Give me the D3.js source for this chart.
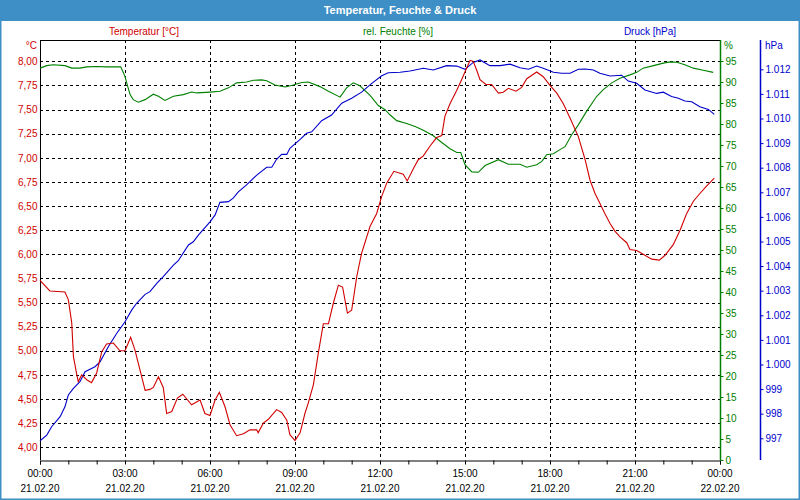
<!DOCTYPE html>
<html>
<head>
<meta charset="utf-8">
<script src="https://cdn.jsdelivr.net/npm/d3@7"></script>
<style>
  html, body { margin: 0; padding: 0; background: #fff; }
  svg { display: block; font-family: "Liberation Sans", Arial, sans-serif; }
</style>
</head>
<body>
<svg id="chart" width="800" height="500"></svg>
<script>
// ---------- DATA ----------
const title = "Temperatur, Feuchte & Druck";
const seriesNames = ["Temperatur [°C]", "rel. Feuchte [%]", "Druck [hPa]"];
const xTickTimes = ["00:00","03:00","06:00","09:00","12:00","15:00","18:00","21:00","00:00"];
const xTickDates = ["21.02.20","21.02.20","21.02.20","21.02.20","21.02.20","21.02.20","21.02.20","21.02.20","22.02.20"];
const xTickHours = [0,3,6,9,12,15,18,21,24];

// Temperature (hours since 21.02.20 00:00, °C)
const tempHours = [0,0.35,0.88,1.0,1.12,1.18,1.30,1.35,1.47,1.65,1.82,2.0,2.18,2.35,2.59,2.82,3.0,3.2,3.35,3.53,3.71,3.88,4.0,4.18,4.35,4.47,4.65,4.85,5.04,5.35,5.65,5.82,6.0,6.18,6.33,6.53,6.71,6.94,7.18,7.41,7.65,7.70,7.88,8.06,8.35,8.53,8.71,8.82,9.0,9.18,9.35,9.47,9.65,9.82,10.0,10.18,10.35,10.53,10.68,10.85,11.0,11.18,11.35,11.65,11.88,12.06,12.24,12.49,12.82,12.96,13.18,13.35,13.53,13.76,14.0,14.18,14.29,14.47,14.71,14.88,15.06,15.18,15.29,15.41,15.53,15.74,15.94,16.18,16.35,16.53,16.8,17.0,17.18,17.53,17.76,18.0,18.24,18.47,18.71,19.0,19.24,19.41,19.59,19.76,19.94,20.12,20.29,20.47,20.71,20.82,21.06,21.29,21.59,21.86,22.06,22.35,22.59,22.82,23.06,23.29,23.53,23.8];
const tempValues = [5.73,5.62,5.61,5.53,5.29,4.94,4.75,4.68,4.75,4.70,4.67,4.77,4.99,5.07,5.08,5.00,5.00,5.14,5.01,4.80,4.59,4.60,4.62,4.73,4.62,4.35,4.37,4.51,4.55,4.44,4.49,4.35,4.33,4.49,4.57,4.42,4.23,4.12,4.14,4.18,4.18,4.15,4.25,4.29,4.39,4.36,4.28,4.13,4.07,4.15,4.35,4.46,4.65,4.97,5.28,5.28,5.49,5.68,5.66,5.39,5.42,5.77,6.01,6.29,6.42,6.60,6.74,6.86,6.83,6.76,6.89,6.98,7.02,7.12,7.21,7.23,7.43,7.56,7.70,7.81,7.93,8.01,8.00,7.91,7.81,7.76,7.76,7.67,7.68,7.72,7.69,7.73,7.82,7.89,7.84,7.75,7.67,7.56,7.41,7.22,6.98,6.77,6.63,6.53,6.42,6.32,6.24,6.18,6.12,6.05,6.04,6.00,5.95,5.94,5.99,6.10,6.25,6.42,6.55,6.63,6.71,6.79];

// Relative humidity (hours, %)
const humHours = [0,0.24,0.47,0.88,1.12,1.41,1.65,2.0,2.35,2.85,3.0,3.08,3.18,3.29,3.47,3.71,4.0,4.18,4.41,4.71,5.06,5.35,5.53,6.0,6.35,6.65,6.94,7.29,7.53,7.82,8.0,8.29,8.65,8.94,9.24,9.47,9.88,10.18,10.59,10.82,11.06,11.29,11.65,11.94,12.18,12.35,12.59,12.94,13.24,13.53,13.88,14.18,14.47,14.71,14.85,15.0,15.24,15.47,15.71,16.18,16.53,16.94,17.18,17.53,17.71,17.88,18.12,18.35,18.53,18.76,19.0,19.29,19.65,19.88,20.18,20.47,20.82,21.06,21.29,21.65,22.0,22.24,22.47,22.76,23.06,23.41,23.76];
const humValues = [93.3,93.9,94.1,93.9,93.3,93.3,93.6,93.7,93.6,93.6,91.3,89.3,87.0,85.8,85.2,85.8,87.1,86.6,85.6,86.6,87.0,87.6,87.4,87.6,87.8,88.6,89.8,90.0,90.4,90.5,90.3,89.3,88.8,89.3,89.9,90.0,88.9,87.8,86.4,88.6,89.8,89.1,86.8,84.4,83.4,82.2,80.8,80.1,79.4,78.5,77.2,75.6,74.1,73.2,73.2,70.3,68.6,68.5,70.1,71.5,70.4,70.4,69.7,70.3,71.1,72.7,72.9,73.9,74.6,77.4,79.8,83.0,86.6,88.2,89.8,90.9,91.7,92.3,93.3,93.9,94.5,94.8,94.7,94.1,93.3,92.8,92.3];

// Pressure (hours, hPa)
const presHours = [0,0.24,0.41,0.71,0.88,1.0,1.18,1.41,1.59,1.94,2.12,2.41,2.71,3.0,3.24,3.41,3.71,3.88,4.12,4.35,4.71,4.88,5.24,5.41,5.59,6.0,6.18,6.35,6.65,6.82,7.0,7.29,7.65,8.0,8.18,8.35,8.53,8.71,8.82,9.18,9.41,9.59,9.94,10.29,10.65,11.0,11.35,11.71,12.06,12.29,12.71,13.06,13.53,13.88,14.35,14.71,15.0,15.29,15.53,15.88,16.24,16.59,16.94,17.24,17.53,17.76,18.12,18.41,18.71,19.0,19.24,19.53,19.76,20.12,20.53,20.76,21.06,21.35,21.76,22.0,22.29,22.53,22.76,23.0,23.29,23.59,23.8];
const presValues = [996.90,997.13,997.47,997.88,998.28,998.76,999.03,999.30,999.71,999.91,1000.11,1000.72,1001.27,1001.74,1002.22,1002.49,1002.85,1002.96,1003.30,1003.57,1004.04,1004.22,1004.86,1004.99,1005.26,1005.80,1006.08,1006.59,1006.62,1006.76,1007.02,1007.30,1007.70,1008.02,1008.02,1008.34,1008.54,1008.54,1008.79,1009.15,1009.40,1009.46,1009.91,1010.14,1010.62,1010.82,1011.07,1011.43,1011.74,1011.86,1011.88,1011.93,1012.04,1011.97,1012.15,1012.13,1012.00,1012.28,1012.38,1012.15,1012.15,1012.21,1012.06,1012.00,1012.13,1012.04,1011.88,1011.84,1011.84,1012.00,1012.01,1011.97,1011.84,1011.73,1011.76,1011.52,1011.43,1011.16,1011.02,1011.07,1010.89,1010.82,1010.71,1010.68,1010.48,1010.37,1010.17];

// Axis ticks
const tempTicks = [4,4.25,4.5,4.75,5,5.25,5.5,5.75,6,6.25,6.5,6.75,7,7.25,7.5,7.75,8];
const humTicks = [0,5,10,15,20,25,30,35,40,45,50,55,60,65,70,75,80,85,90,95];
const presTicks = [997,998,999,1000,1001,1002,1003,1004,1005,1006,1007,1008,1009,1010,1011,1012];

// ---------- LAYOUT ----------
const W = 800, H = 500;
const L = 40, R = 720, T = 40, B = 460;
const cRed = "#d00000", cGreen = "#008000", cBlue = "#0000cc", cBar = "#3d8fc6";

const de = d3.formatLocale({decimal: ",", thousands: ".", grouping: [3], currency: ["", "€"]});
const fTemp = de.format(".2f");
const fPres = de.format(",d");

const x = d3.scaleLinear().domain([0, 24]).range([L, R]);
const yT = d3.scaleLinear().domain([3.868, 8.221]).range([B, T]);
const yH = d3.scaleLinear().domain([0, 100]).range([B, T]);
const yP = d3.scaleLinear().domain([996.118, 1013.191]).range([B, T]);

const svg = d3.select("#chart");
svg.append("rect").attr("x", 0).attr("y", 0).attr("width", W).attr("height", H).attr("fill", "#fff");

// Title bar
svg.append("rect").attr("x", 0).attr("y", 0).attr("width", W).attr("height", 21).attr("fill", cBar);
svg.append("text").attr("x", 400).attr("y", 14).attr("text-anchor", "middle")
  .attr("fill", "#fff").attr("font-weight", "bold").attr("font-size", 11).text(title);

// Outer border
svg.append("rect").attr("x", 0.75).attr("y", 0.75).attr("width", W - 1.5).attr("height", H - 1.5)
  .attr("fill", "none").attr("stroke", cBar).attr("stroke-width", 1.5);

// Series labels
const legendX = [144, 398, 650];
const legendC = [cRed, cGreen, cBlue];
seriesNames.forEach((n, i) => {
  svg.append("text").attr("x", legendX[i]).attr("y", 35).attr("text-anchor", "middle")
    .attr("font-size", 10).attr("fill", legendC[i]).text(n);
});

// Grid
const grid = svg.append("g").attr("stroke", "#000").attr("stroke-width", 1).attr("stroke-dasharray", "3,3");
tempTicks.forEach(t => {
  const yy = Math.round(yT(t)) + 0.5;
  grid.append("line").attr("x1", L).attr("x2", R).attr("y1", yy).attr("y2", yy);
});
xTickHours.slice(1, -1).forEach(h => {
  const xx = Math.round(x(h)) + 0.5;
  grid.append("line").attr("x1", xx).attr("x2", xx).attr("y1", T).attr("y2", B);
});

// Frame
svg.append("line").attr("x1", L).attr("x2", R).attr("y1", T + 0.5).attr("y2", T + 0.5).attr("stroke", "#000");
svg.append("line").attr("x1", L + 0.5).attr("x2", L + 0.5).attr("y1", T).attr("y2", B).attr("stroke", "#000");

// Left temperature axis
const axT = svg.append("g").attr("transform", `translate(${L + 0.5},0)`)
  .call(d3.axisLeft(yT).tickValues(tempTicks).tickFormat(fTemp).tickSize(0).tickPadding(3));
axT.select(".domain").remove();
axT.selectAll("text").attr("fill", cRed).attr("font-size", 10).attr("font-family", "Liberation Sans, Arial, sans-serif");
svg.append("text").attr("x", 37).attr("y", 49).attr("text-anchor", "end").attr("font-size", 10).attr("fill", cRed).text("°C");

// Bottom time axis
const axX = svg.append("g").attr("transform", `translate(0,${B + 0.5})`)
  .call(d3.axisBottom(x).ticks(24).tickSize(4).tickFormat(""));
axX.select(".domain").attr("stroke", "#000");
axX.selectAll(".tick line").attr("stroke", "#000");
const lblX = svg.append("g").attr("font-size", 10).attr("fill", "#000").attr("text-anchor", "middle");
xTickHours.forEach((h, i) => {
  const t = lblX.append("text").attr("x", x(h)).attr("y", 477);
  t.text(xTickTimes[i]);
  lblX.append("text").attr("x", x(h)).attr("y", 492).text(xTickDates[i]);
});

// Right humidity axis
const axH = svg.append("g").attr("transform", `translate(${R + 0.5},0)`)
  .call(d3.axisRight(yH).tickValues(humTicks).tickSize(3).tickPadding(2).tickFormat(d3.format("d")));
axH.select(".domain").attr("stroke", cGreen).attr("stroke-width", 1.5).attr("d", `M0,${T}V${B}`);
axH.selectAll(".tick line").attr("stroke", cGreen);
axH.selectAll("text").attr("fill", cGreen).attr("font-size", 10).attr("font-family", "Liberation Sans, Arial, sans-serif");
svg.append("text").attr("x", 724).attr("y", 49).attr("font-size", 10).attr("fill", cGreen).text("%");

// Far right pressure axis
const axP = svg.append("g").attr("transform", `translate(760.5,0)`)
  .call(d3.axisRight(yP).tickValues(presTicks).tickSize(3).tickPadding(2).tickFormat(fPres));
axP.select(".domain").attr("stroke", cBlue).attr("stroke-width", 1.5).attr("d", `M0,${T}V${B}`);
axP.selectAll(".tick line").attr("stroke", cBlue);
axP.selectAll("text").attr("fill", cBlue).attr("font-size", 10).attr("font-family", "Liberation Sans, Arial, sans-serif");
svg.append("text").attr("x", 765).attr("y", 49).attr("font-size", 10).attr("fill", cBlue).text("hPa");

// Lines
function drawLine(hours, values, yScale, color) {
  const pts = hours.map((h, i) => [h, values[i]]);
  svg.append("path").datum(pts)
    .attr("fill", "none").attr("stroke", color).attr("stroke-width", 1.1)
    .attr("d", d3.line().x(d => x(d[0])).y(d => yScale(d[1])));
}
drawLine(humHours, humValues, yH, cGreen);
drawLine(presHours, presValues, yP, cBlue);
drawLine(tempHours, tempValues, yT, cRed);
</script>
</body>
</html>
